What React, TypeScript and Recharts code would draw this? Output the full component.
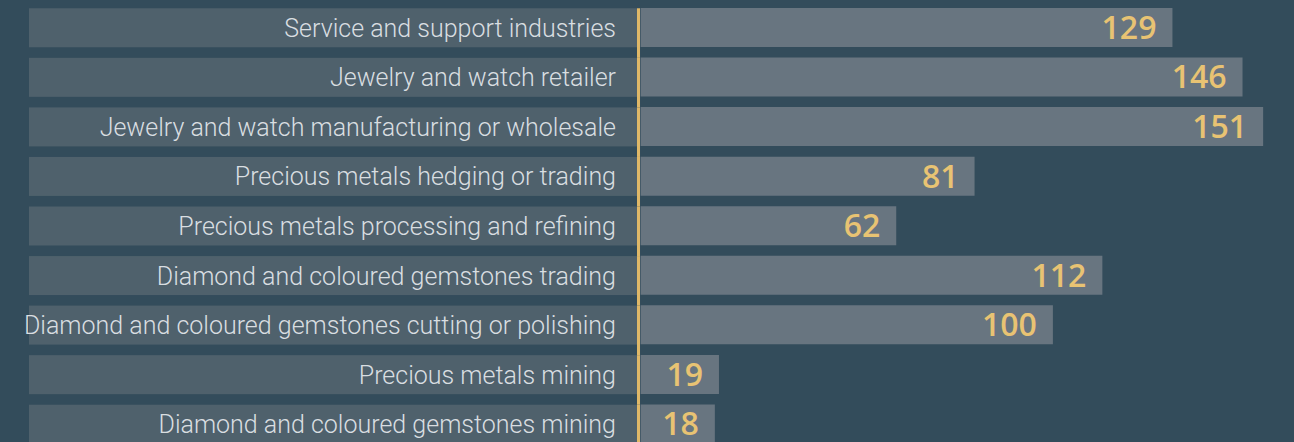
import {Bar, BarChart, LabelList, XAxis, YAxis} from 'recharts'
import {JSX} from 'react'

const categories = [
	'Service and support industries',
	'Jewelry and watch retailer',
	'Jewelry and watch manufacturing or wholesale',
	'Precious metals hedging or trading',
	'Precious metals processing and refining',
	'Diamond and coloured gemstones trading',
	'Diamond and coloured gemstones cutting or polishing',
	'Precious metals mining',
	'Diamond and coloured gemstones mining',
]
const counts = [129, 146, 151, 81, 62, 112, 100, 19, 18]

const data = categories.map((name, i) => ({name, value: counts[i]}))

const BG = '#334c5b'
const BOX = '#4f616c'
const BAR = '#687580'
const GOLD = '#e8c373'
const LINE = '#dfb868'

const ROW = 49.56
const BOX_H = 39

// 카테고리 라벨 + 배경 박스 + 노란 세로선
const CategoryTick = (props: any): JSX.Element => {
	const {y, payload} = props
	const top = y - BOX_H / 2
	return (
		<g>
			<rect x={29} y={top} width={608} height={BOX_H} fill={BOX} />
			<rect x={637} y={top} width={3} height={ROW} fill={LINE} />
			<text
				x={616}
				y={y + 0.5}
				textAnchor='end'
				dominantBaseline='central'
				fontFamily='Roboto, sans-serif'
				fontWeight={300}
				fontSize={25}
				fill='#d9dee1'
			>
				{payload.value}
			</text>
		</g>
	)
}

const App = (): JSX.Element => {
	return (
		<div style={{position: 'fixed', top: 0, left: 0, width: 1294, height: 442, overflow: 'hidden', background: BG}}>
			<BarChart
				width={1294}
				height={452}
				data={data}
				layout='vertical'
				margin={{top: 3, right: 2, bottom: 3, left: 0}}
			>
				<XAxis type='number' hide domain={[-0.4, 158]} />
				<YAxis
					type='category'
					dataKey='name'
					width={639}
					axisLine={false}
					tickLine={false}
					tick={<CategoryTick />}
					interval={0}
				/>
				<Bar dataKey='value' fill={BAR} barSize={BOX_H} isAnimationActive={false}>
					<LabelList
						dataKey='value'
						position='insideRight'
						offset={16}
						fill={GOLD}
						fontSize={32}
						fontWeight={600}
						fontFamily='"Open Sans", sans-serif'
					/>
				</Bar>
			</BarChart>
		</div>
	)
}

export default App
